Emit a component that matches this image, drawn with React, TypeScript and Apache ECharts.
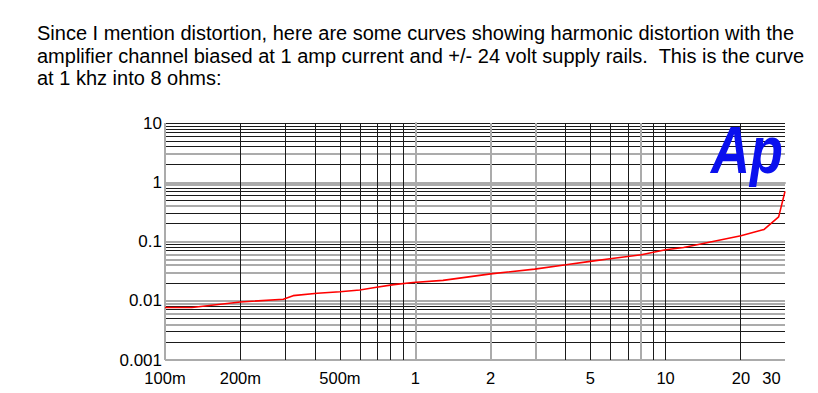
import React, { useEffect, useRef } from "react";
import * as echarts from "echarts";

const TITLE_LINES = [
  "Since I mention distortion, here are some curves showing harmonic distortion with the",
  "amplifier channel biased at 1 amp current and +/- 24 volt supply rails.  This is the curve",
  "at 1 khz into 8 ohms:",
];

// Frequency (kHz) and THD (%)
const FREQ = [0.1, 0.128, 0.2, 0.297, 0.325, 0.406, 0.5, 0.6, 0.7, 0.82, 0.98, 1.29, 2, 3, 4, 5, 6, 8, 10, 11.8, 20, 24.7, 28.3, 30];
const THD = [0.0077, 0.0077, 0.0095, 0.0106, 0.0122, 0.0134, 0.0142, 0.0152, 0.0169, 0.0187, 0.0203, 0.0221, 0.0284, 0.0342, 0.0404, 0.0462, 0.051, 0.0596, 0.0725, 0.0793, 0.125, 0.159, 0.26, 0.7];

const X_TICKS = [0.1, 0.2, 0.5, 1, 2, 5, 10, 20, 30];
const X_TICK_LABELS = ["100m", "200m", "500m", "1", "2", "5", "10", "20", "30"];
const Y_TICKS = [0.001, 0.01, 0.1, 1, 10];
const Y_TICK_LABELS = ["0.001", "0.01", "0.1", "1", "10"];

const X_MIN = 0.1;
const X_MAX = 30;
const Y_MIN = 0.001;
const Y_MAX = 10;

// grid lines drawn light grey (as in the scanned plot)
const V_GRAY = [0.1, 1, 2, 3, 8, 30];
const H_GRAY = [0.001, 0.004, 0.006, 0.009, 0.01, 0.03, 0.04, 0.05, 0.06, 0.1, 0.4, 0.9, 1, 3];

const lg = Math.log10;
const same = (a: number, b: number) => Math.abs(lg(a) - lg(b)) < 1e-6;

function gridValues(min: number, max: number) {
  const out: number[] = [];
  for (let d = min; d < max * 1.0001; d *= 10) {
    for (let k = 1; k <= 9; k++) {
      const v = parseFloat((k * d).toPrecision(6));
      if (v <= max * 1.0001) out.push(v);
    }
  }
  if (!out.some((v) => same(v, max))) out.push(max);
  return out;
}

const FONT = '"Liberation Sans", Arial, sans-serif';
const GRAY = "#ababab";
const DARK = "#1a1a1a";

export default function App() {
  const ref = useRef<HTMLDivElement>(null);
  useEffect(() => {
    if (!ref.current) return;
    const chart = echarts.init(ref.current, null, { renderer: "svg" });

    const vLines = gridValues(X_MIN, X_MAX).map((v) => {
      const gray = V_GRAY.some((g) => same(g, v));
      return { xAxis: lg(v), lineStyle: { color: gray ? GRAY : DARK, width: gray ? 2 : 1, type: "solid" } };
    });
    const hLines = gridValues(Y_MIN, Y_MAX).map((v) => {
      const gray = H_GRAY.some((g) => same(g, v));
      return { yAxis: lg(v), lineStyle: { color: gray ? GRAY : DARK, width: gray ? 2 : 1, type: "solid" } };
    });

    const xLabel = (val: number) => {
      let best = 0;
      X_TICKS.forEach((t, i) => {
        if (Math.abs(lg(t) - val) < Math.abs(lg(X_TICKS[best]) - val)) best = i;
      });
      const s = X_TICK_LABELS[best];
      return best === X_TICKS.length - 1 ? `{r|${s}}` : s;
    };
    const yLabel = (val: number) => {
      let best = 0;
      Y_TICKS.forEach((t, i) => {
        if (Math.abs(lg(t) - val) < Math.abs(lg(Y_TICKS[best]) - val)) best = i;
      });
      return Y_TICK_LABELS[best];
    };

    const option: any = {
      animation: false,
      grid: { left: 165, right: 33, top: 123, bottom: 33 },
      xAxis: {
        type: "value",
        min: lg(X_MIN),
        max: lg(X_MAX),
        axisLine: { show: true, lineStyle: { color: GRAY, width: 2 } },
        axisTick: { show: false },
        splitLine: { show: false },
        axisLabel: {
          customValues: X_TICKS.map(lg),
          formatter: xLabel,
          showMinLabel: true,
          showMaxLabel: true,
          hideOverlap: false,
          color: "#000",
          fontSize: 16.5,
          fontFamily: FONT,
          margin: 9,
          rich: { r: { padding: [0, 27, 0, 0], fontSize: 16.5, fontFamily: FONT, color: "#000" } },
        },
      },
      yAxis: {
        type: "value",
        min: lg(Y_MIN),
        max: lg(Y_MAX),
        interval: 1,
        axisLine: { show: true, lineStyle: { color: GRAY, width: 2 } },
        axisTick: { show: false },
        splitLine: { show: false },
        axisLabel: {
          formatter: yLabel,
          showMinLabel: true,
          showMaxLabel: true,
          color: "#000",
          fontSize: 17,
          fontFamily: FONT,
          margin: 3,
        },
      },
      series: [
        {
          type: "line",
          data: [],
          z: 1,
          silent: true,
          markLine: {
            silent: true,
            symbol: ["none", "none"],
            label: { show: false },
            z: 1,
            data: [...hLines, ...vLines],
          },
        },
        {
          type: "line",
          z: 10,
          data: FREQ.map((f, i) => [lg(f), lg(THD[i])]),
          showSymbol: false,
          symbol: "none",
          lineStyle: { color: "#ff0000", width: 1.6 },
        },
      ],
      graphic: [
        ...TITLE_LINES.map((t, i) => ({
          type: "text",
          x: 37,
          y: 33 + i * 22.5,
          style: { text: t, font: `20px ${FONT}`, fill: "#000", align: "left", verticalAlign: "middle" },
        })),
        {
          type: "text",
          x: 711,
          y: 117,
          scaleX: 0.82,
          z: 20,
          style: { text: "Ap", font: `italic bold 66px ${FONT}`, fill: "#0a10ee", align: "left", verticalAlign: "top" },
        },
      ],
    };
    chart.setOption(option);
    return () => chart.dispose();
  }, []);
  return <div ref={ref} style={{ position: "absolute", left: 0, top: 0, width: 818, height: 393, background: "#fff" }} />;
}
